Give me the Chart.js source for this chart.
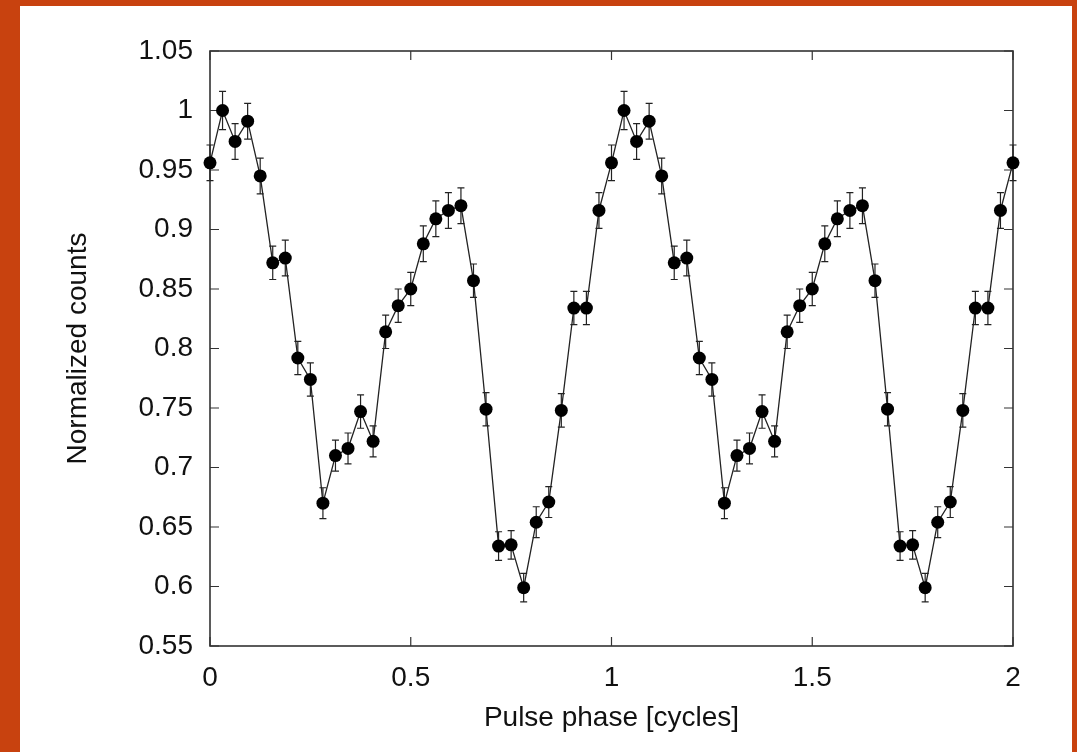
<!DOCTYPE html>
<html>
<head>
<meta charset="utf-8">
<script src="https://cdn.jsdelivr.net/npm/chart.js@4"></script>
<style>
  html, body { margin: 0; padding: 0; }
  body { width: 1077px; height: 752px; background: #c8420f; position: relative; overflow: hidden; }
  #panel { position: absolute; left: 20px; top: 6px; width: 1052px; height: 746px; background: #fff; }
  #wrap { position: absolute; left: 0; top: 0; width: 1052px; height: 746px; }
</style>
</head>
<body>
<div id="panel"><div id="wrap"><canvas id="profile"></canvas></div></div>
<script>
// pulse profile, two cycles, 32 bins per cycle
const phase = [
  0, 0.03125, 0.0625, 0.09375, 0.125, 0.15625, 0.1875, 0.21875,
  0.25, 0.28125, 0.3125, 0.34375, 0.375, 0.40625, 0.4375, 0.46875,
  0.5, 0.53125, 0.5625, 0.59375, 0.625, 0.65625, 0.6875, 0.71875,
  0.75, 0.78125, 0.8125, 0.84375, 0.875, 0.90625, 0.9375, 0.96875,
  1, 1.03125, 1.0625, 1.09375, 1.125, 1.15625, 1.1875, 1.21875,
  1.25, 1.28125, 1.3125, 1.34375, 1.375, 1.40625, 1.4375, 1.46875,
  1.5, 1.53125, 1.5625, 1.59375, 1.625, 1.65625, 1.6875, 1.71875,
  1.75, 1.78125, 1.8125, 1.84375, 1.875, 1.90625, 1.9375, 1.96875,
  2
];
const counts = [
  0.956, 1.000, 0.974, 0.991, 0.945, 0.872, 0.876, 0.792,
  0.774, 0.670, 0.710, 0.716, 0.747, 0.722, 0.814, 0.836,
  0.850, 0.888, 0.909, 0.916, 0.920, 0.857, 0.749, 0.634,
  0.635, 0.599, 0.654, 0.671, 0.748, 0.834, 0.834, 0.916,
  0.956, 1.000, 0.974, 0.991, 0.945, 0.872, 0.876, 0.792,
  0.774, 0.670, 0.710, 0.716, 0.747, 0.722, 0.814, 0.836,
  0.850, 0.888, 0.909, 0.916, 0.920, 0.857, 0.749, 0.634,
  0.635, 0.599, 0.654, 0.671, 0.748, 0.834, 0.834, 0.916,
  0.956
];
const errors = [
  0.015, 0.016, 0.015, 0.015, 0.015, 0.014, 0.015, 0.014,
  0.014, 0.013, 0.013, 0.013, 0.014, 0.013, 0.014, 0.014,
  0.014, 0.015, 0.015, 0.015, 0.015, 0.014, 0.014, 0.012,
  0.012, 0.012, 0.013, 0.013, 0.014, 0.014, 0.014, 0.015,
  0.015, 0.016, 0.015, 0.015, 0.015, 0.014, 0.015, 0.014,
  0.014, 0.013, 0.013, 0.013, 0.014, 0.013, 0.014, 0.014,
  0.014, 0.015, 0.015, 0.015, 0.015, 0.014, 0.014, 0.012,
  0.012, 0.012, 0.013, 0.013, 0.014, 0.014, 0.014, 0.015,
  0.015
];
const xTicks = [0, 0.5, 1, 1.5, 2];
const yTicks = [0.55, 0.6, 0.65, 0.7, 0.75, 0.8, 0.85, 0.9, 0.95, 1, 1.05];

const font = { family: '"Liberation Sans", Arial, Helvetica, sans-serif', size: 28 };
const fmt = (v) => String(+v.toFixed(2));

// error bars under the markers
const errorBars = {
  id: 'errorBars',
  beforeDatasetsDraw(chart) {
    const { ctx, scales: { x, y } } = chart;
    ctx.save();
    ctx.strokeStyle = '#222';
    ctx.lineWidth = 1.2;
    for (let i = 0; i < counts.length; i++) {
      const px = x.getPixelForValue(phase[i]);
      const lo = y.getPixelForValue(counts[i] - errors[i]);
      const hi = y.getPixelForValue(counts[i] + errors[i]);
      ctx.beginPath();
      ctx.moveTo(px, lo); ctx.lineTo(px, hi);
      ctx.moveTo(px - 3.5, lo); ctx.lineTo(px + 3.5, lo);
      ctx.moveTo(px - 3.5, hi); ctx.lineTo(px + 3.5, hi);
      ctx.stroke();
    }
    ctx.restore();
  }
};

// box frame with inward ticks on all four sides
const frame = {
  id: 'frame',
  beforeDatasetsDraw(chart) {
    const { ctx, chartArea: a, scales: { x, y } } = chart;
    ctx.save();
    ctx.strokeStyle = '#333';
    ctx.lineWidth = 1.6;
    ctx.strokeRect(a.left, a.top, a.right - a.left, a.bottom - a.top);
    ctx.lineWidth = 1.2;
    ctx.beginPath();
    x.ticks.forEach(t => {
      const px = x.getPixelForValue(t.value);
      ctx.moveTo(px, a.bottom); ctx.lineTo(px, a.bottom - 9);
      ctx.moveTo(px, a.top); ctx.lineTo(px, a.top + 9);
    });
    y.ticks.forEach(t => {
      const py = y.getPixelForValue(t.value);
      ctx.moveTo(a.left, py); ctx.lineTo(a.left + 9, py);
      ctx.moveTo(a.right, py); ctx.lineTo(a.right - 9, py);
    });
    ctx.stroke();
    ctx.restore();
  }
};

new Chart(document.getElementById('profile'), {
  type: 'line',
  data: {
    datasets: [{
      data: phase.map((p, i) => ({ x: p, y: counts[i] })),
      borderColor: '#222',
      borderWidth: 1.3,
      pointRadius: 6.5,
      pointBackgroundColor: '#000',
      pointBorderColor: '#000',
      pointBorderWidth: 0,
      tension: 0,
      fill: false,
      clip: false,
    }],
  },
  options: {
    responsive: true,
    maintainAspectRatio: false,
    animation: false,
    layout: { padding: { top: 45, right: 59, left: 0, bottom: 0 } },
    plugins: { legend: { display: false }, tooltip: { enabled: false } },
    scales: {
      x: {
        type: 'linear',
        min: 0, max: 2,
        afterBuildTicks: (s) => { s.ticks = xTicks.map(v => ({ value: v })); },
        afterFit: (s) => { s.height = 106; },
        grid: { display: false, drawTicks: false },
        border: { display: false },
        ticks: { color: '#111', font, padding: 15, maxRotation: 0, callback: fmt },
        title: { display: true, text: 'Pulse phase [cycles]', color: '#111', font, padding: { bottom: 17 } },
      },
      y: {
        type: 'linear',
        min: 0.55, max: 1.05,
        afterBuildTicks: (s) => { s.ticks = yTicks.map(v => ({ value: v })); },
        afterFit: (s) => { s.width = 190; },
        grid: { display: false, drawTicks: false },
        border: { display: false },
        ticks: { color: '#111', font, padding: 17, callback: fmt },
        title: { display: true, text: 'Normalized counts', color: '#111', font, padding: { top: 41 } },
      },
    },
  },
  plugins: [frame, errorBars],
});
</script>
</body>
</html>
